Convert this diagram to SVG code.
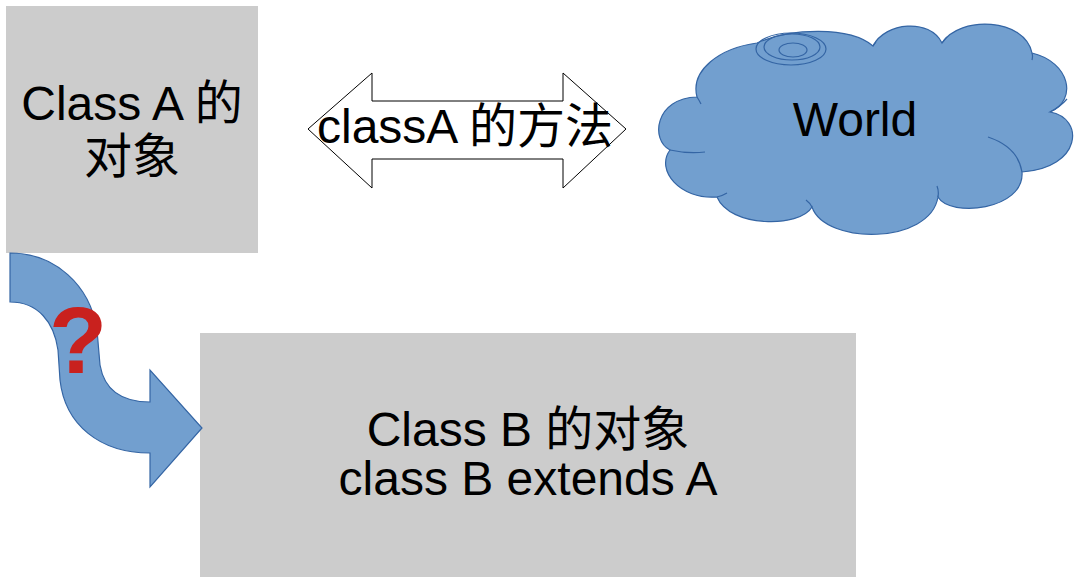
<svg xmlns="http://www.w3.org/2000/svg" width="1074" height="577" viewBox="0 0 1074 577">
<style>
.box{fill:#cccccc;stroke:none}
.t{font-family:"Liberation Sans","Noto Sans CJK SC",sans-serif;font-size:48px;fill:#000000}
.blue{fill:#729fcf;stroke:#3465a4;stroke-width:1.2}
.line{fill:none;stroke:#3465a4;stroke-width:1.2}
</style>
<rect width="1074" height="577" fill="#ffffff"/>
<g id="classA">
<rect class="box" x="6" y="6" width="252" height="247"/>
<text class="t" x="132" y="120" text-anchor="middle">Class A 的</text>
<text class="t" x="132" y="173" text-anchor="middle">对象</text>
</g>
<g id="world">
<path class="blue" d="M697,97 C690,70 720,48 757,43 C790,28 850,26 873,46 C885,22 930,18 942,43 C960,15 1025,18 1032,53 C1070,62 1078,100 1050,112 C1085,118 1082,168 1022,172 C1025,210 950,218 938,197 C930,245 825,245 812,207 C800,228 730,228 717,197 C680,200 655,170 670,150 C650,140 655,98 697,97 Z"/>
<path class="line" d="M670,150 Q688,154 705,152 M697,97 Q699,100 701,104 M942,43 Q944,40 947,37 M1032,53 Q1033,56 1032,60 M1050,112 Q1060,107 1067,99 M988,137 Q1018,147 1022,172 M938,197 Q939,191 937,186 M812,207 Q810,203 806,200 M717,197 Q722,196 727,193 M873,46 Q874,44 876,42"/>
<ellipse class="line" cx="791" cy="49" rx="35" ry="16"/>
<ellipse class="line" cx="792" cy="47" rx="28" ry="13"/>
<ellipse class="line" cx="793" cy="50" rx="14" ry="7"/>
<text class="t" x="855" y="136" text-anchor="middle">World</text>
</g>
<g id="methods">
<polygon points="308,129 372,73 372,101 563,101 563,73 626,129 563,188 563,159 372,159 372,188" fill="#ffffff" stroke="#000000" stroke-width="1"/>
<text class="t" x="317" y="143">classA 的方法</text>
</g>
<g id="classB">
<rect class="box" x="200" y="333" width="656" height="244"/>
<text class="t" x="528" y="446" text-anchor="middle">Class B 的对象</text>
<text class="t" x="528" y="495" text-anchor="middle">class B extends A</text>
</g>
<g id="connectors">
<path class="blue" d="M10,253 C55,253 90,285 97,330 L100,365 C104,388 120,402 150,402 L150,370 L202,428 L150,487 L150,453 C100,453 65,425 60,380 L58,350 C54,322 38,302 10,302 Z"/>
<text x="78" y="373" text-anchor="middle" font-family="Liberation Sans,sans-serif" font-weight="bold" font-size="95" fill="#c9211e">?</text>
</g>
</svg>
